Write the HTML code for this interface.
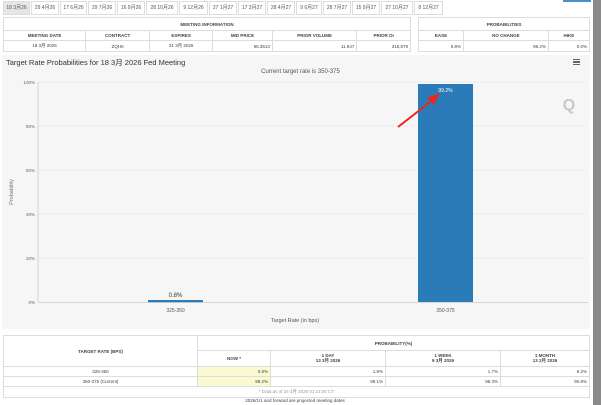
<!DOCTYPE html>
<html><head><meta charset="utf-8"><style>
*{margin:0;padding:0;box-sizing:border-box}
body{width:601px;height:405px;background:#fff;font-family:"Liberation Sans","Noto Sans CJK SC",sans-serif;position:relative;overflow:hidden;color:#333}
.abs{position:absolute}
.tab{position:absolute;top:1px;height:14px;border:1px solid #ddd;font-size:5px;line-height:12px;text-align:center;color:#555;background:#fff}
table{border-collapse:collapse;position:absolute;font-size:4.5px;color:#444}
td{border:1px solid #ddd;text-align:center;padding:0 2px}
.r{text-align:right}
.b{font-weight:bold}
</style></head><body>
<div class="abs" style="left:593px;top:0;width:8px;height:405px;background:#8a8a8a"></div>
<div class="abs" style="left:563px;top:0;width:28px;height:2px;background:#4a90c8"></div>
<div class="tab" style="left:3px;width:27px;background:#e6e6e6">18 3月26</div>
<div class="tab" style="left:31px;width:28px">29 4月26</div>
<div class="tab" style="left:60px;width:27px">17 6月26</div>
<div class="tab" style="left:88px;width:28px">29 7月26</div>
<div class="tab" style="left:117px;width:28px">16 9月26</div>
<div class="tab" style="left:146px;width:32px">28 10月26</div>
<div class="tab" style="left:179px;width:29px">9 12月26</div>
<div class="tab" style="left:209px;width:28px">27 1月27</div>
<div class="tab" style="left:238px;width:28px">17 3月27</div>
<div class="tab" style="left:267px;width:28px">28 4月27</div>
<div class="tab" style="left:296px;width:26px">9 6月27</div>
<div class="tab" style="left:323px;width:28px">28 7月27</div>
<div class="tab" style="left:352px;width:28px">15 9月27</div>
<div class="tab" style="left:381px;width:32px">27 10月27</div>
<div class="tab" style="left:414px;width:29px">8 12月27</div>

<table style="left:3px;top:17px;width:408px">
<tr style="height:13px"><td colspan="6" class="b">MEETING INFORMATION</td></tr>
<tr style="height:10px" class="b"><td>MEETING DATE</td><td>CONTRACT</td><td>EXPIRES</td><td>MID PRICE</td><td>PRIOR VOLUME</td><td>PRIOR OI</td></tr>
<tr style="height:11px"><td>18 3月 2026</td><td>ZQH6</td><td>31 3月 2026</td><td class="r">96.3513</td><td class="r">11,947</td><td class="r">315,879</td></tr>
</table>
<table style="left:418px;top:17px;width:172px">
<tr style="height:13px"><td colspan="3" class="b">PROBABILITIES</td></tr>
<tr style="height:10px" class="b"><td>EASE</td><td>NO CHANGE</td><td>HIKE</td></tr>
<tr style="height:11px"><td class="r">0.8%</td><td class="r">99.2%</td><td class="r">0.0%</td></tr>
</table>

<div class="abs" style="left:2px;top:55px;width:588px;height:274px;background:#f6f6f6"></div>
<div class="abs" style="left:6px;top:57px;font-size:7.5px;color:#333">Target Rate Probabilities for 18 3月 2026 Fed Meeting</div>
<div class="abs" style="left:573px;top:59px;width:7px;height:6px;border-top:1.5px solid #666;border-bottom:1.5px solid #666"><div style="margin-top:1px;height:1.5px;background:#666"></div></div>
<div class="abs" style="left:0;width:601px;top:69px;text-align:center;font-size:6px;color:#555">Current target rate is 350-375</div>
<svg class="abs" style="left:0;top:0" width="601" height="405">
<g stroke="#ddd" stroke-dasharray="1.5,2" stroke-width="0.7">
<line x1="39" x2="588" y1="82" y2="82"/><line x1="39" x2="588" y1="126" y2="126"/><line x1="39" x2="588" y1="170" y2="170"/><line x1="39" x2="588" y1="214" y2="214"/><line x1="39" x2="588" y1="258" y2="258"/>
</g>
<line x1="38" x2="38" y1="82" y2="302" stroke="#ccc" stroke-width="0.8"/>
<line x1="38" x2="588" y1="302.5" y2="302.5" stroke="#ccc" stroke-width="0.8"/>
<g font-size="4.5" fill="#666" text-anchor="end" font-family="Liberation Sans">
<text x="35" y="84">100%</text><text x="35" y="128">80%</text><text x="35" y="172">60%</text><text x="35" y="216">40%</text><text x="35" y="260">20%</text><text x="35" y="304">0%</text>
</g>
<text transform="translate(13,192) rotate(-90)" font-size="5.5" fill="#777" text-anchor="middle">Probability</text>
<rect x="148" y="300" width="55" height="2.2" fill="#2b7bb9"/>
<rect x="418" y="84" width="55" height="218" fill="#2b7bb9"/>
<text x="175.5" y="297" font-size="6" fill="#333" text-anchor="middle">0.8%</text>
<text x="445.5" y="92" font-size="5" fill="#fff" text-anchor="middle">99.2%</text>
<g font-size="5" fill="#555" text-anchor="middle"><text x="175.5" y="312">325-350</text><text x="445.5" y="312">350-375</text></g>
<text x="295" y="322" font-size="5.5" fill="#555" text-anchor="middle">Target Rate (in bps)</text>
<text x="569" y="110" font-size="16" font-weight="bold" fill="#c8c8c8" text-anchor="middle">Q</text>
<line x1="398" y1="127" x2="434" y2="99" stroke="#e8281e" stroke-width="2"/>
<polygon points="440,93 427,98 434,105" fill="#e8281e"/>
</svg>

<table style="left:3px;top:335px;width:587px">
<tr style="height:15px"><td rowspan="2" class="b" style="width:194px">TARGET RATE (BPS)</td><td colspan="4" class="b">PROBABILITY(%)</td></tr>
<tr style="height:16px" class="b"><td style="width:73px">NOW *</td><td style="width:115px">1 DAY<br>13 3月 2026</td><td style="width:115px">1 WEEK<br>9 3月 2026</td><td>1 MONTH<br>13 2月 2026</td></tr>
<tr style="height:10px"><td>325-350</td><td class="r" style="background:#fafad2">0.8%</td><td class="r">1.9%</td><td class="r">1.7%</td><td class="r">9.2%</td></tr>
<tr style="height:10px"><td>350-375 (Current)</td><td class="r" style="background:#fafad2">99.2%</td><td class="r">98.1%</td><td class="r">98.3%</td><td class="r">90.8%</td></tr>
<tr style="height:11px"><td colspan="5" style="color:#999">* Data as of 16 3月 2026 01:14:00 CT</td></tr>
</table>
<div class="abs" style="left:0;width:590px;top:398px;text-align:center;font-size:4.5px;color:#444">2026/1/1 and forward are projected meeting dates</div>
</body></html>
